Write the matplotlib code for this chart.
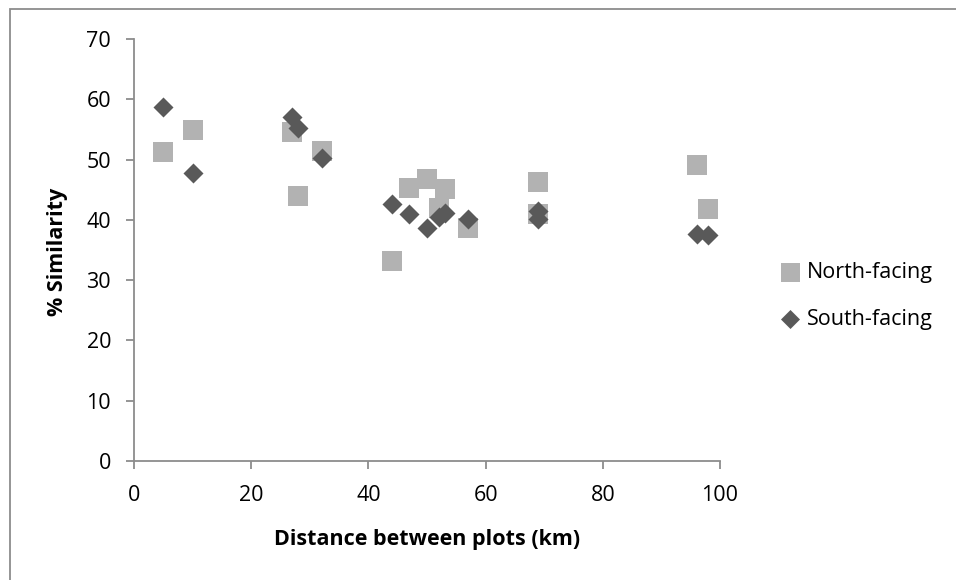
import matplotlib.pyplot as plt
from matplotlib.patches import Rectangle

# data
north_x = [5, 10, 27, 28, 32, 44, 47, 50, 53, 52, 57, 69, 69, 96, 98]
north_y = [51.2, 54.9, 54.6, 43.9, 51.4, 33.1, 45.3, 46.8, 45.1, 42.0, 38.6, 46.3, 41.0, 49.1, 41.8]

south_x = [5, 10, 27, 28, 32, 44, 47, 50, 52, 53, 57, 69, 69, 96, 98]
south_y = [58.7, 47.8, 57.1, 55.2, 50.2, 42.6, 40.9, 38.6, 40.4, 41.1, 40.2, 41.5, 40.1, 37.6, 37.5]

x_ticks = [0, 20, 40, 60, 80, 100]
y_ticks = [0, 10, 20, 30, 40, 50, 60, 70]

W, H = 956, 580
plt.rcParams['font.family'] = ['Open Sans', 'DejaVu Sans']

fig = plt.figure(figsize=(W / 100, H / 100), dpi=100)
ax = fig.add_axes([134 / W, 1 - 461 / H, (720 - 134) / W, (461 - 39) / H])

ax.scatter(north_x, north_y, marker='s', s=14.4 ** 2, color='#b2b2b2',
           linewidths=0, label='North-facing', zorder=2)
ax.scatter(south_x, south_y, marker='D', s=10.2 ** 2, color='#595959',
           linewidths=0, label='South-facing', zorder=3)

ax.set_xlim(0, 100)
ax.set_ylim(0, 70)
ax.set_xticks(x_ticks)
ax.set_yticks(y_ticks)

for s in ['top', 'right']:
    ax.spines[s].set_visible(False)
for s in ['left', 'bottom']:
    ax.spines[s].set_color('#8c8c8c')
    ax.spines[s].set_linewidth(1.3)
ax.tick_params(direction='out', length=5.5, width=1.3, color='#8c8c8c',
               labelsize=15.5, labelcolor='black')
ax.tick_params(axis='x', pad=12)
ax.tick_params(axis='y', pad=11)

ax.set_xlabel('Distance between plots (km)', fontsize=15.5, fontweight='bold', labelpad=16)
fig.text(57 / W, 1 - 252 / H, '% Similarity', rotation=90, ha='center', va='center',
         fontsize=15.5, fontweight='bold')

leg = fig.legend(loc='center left', bbox_to_anchor=(779 / W, 1 - 296 / H),
                 frameon=False, fontsize=15.5, handlelength=1.0, handletextpad=0.3,
                 labelspacing=1.22, borderpad=0, borderaxespad=0, markerscale=0.95)

# chart border (only the top and left edges show in the reference)
fig.patches.append(Rectangle((10 / W, -0.1), 1.2, 1.1 - 9 / H, transform=fig.transFigure,
                             fill=False, edgecolor='#8c8c8c', linewidth=1.3))

fig.savefig('out.png', dpi=100)
